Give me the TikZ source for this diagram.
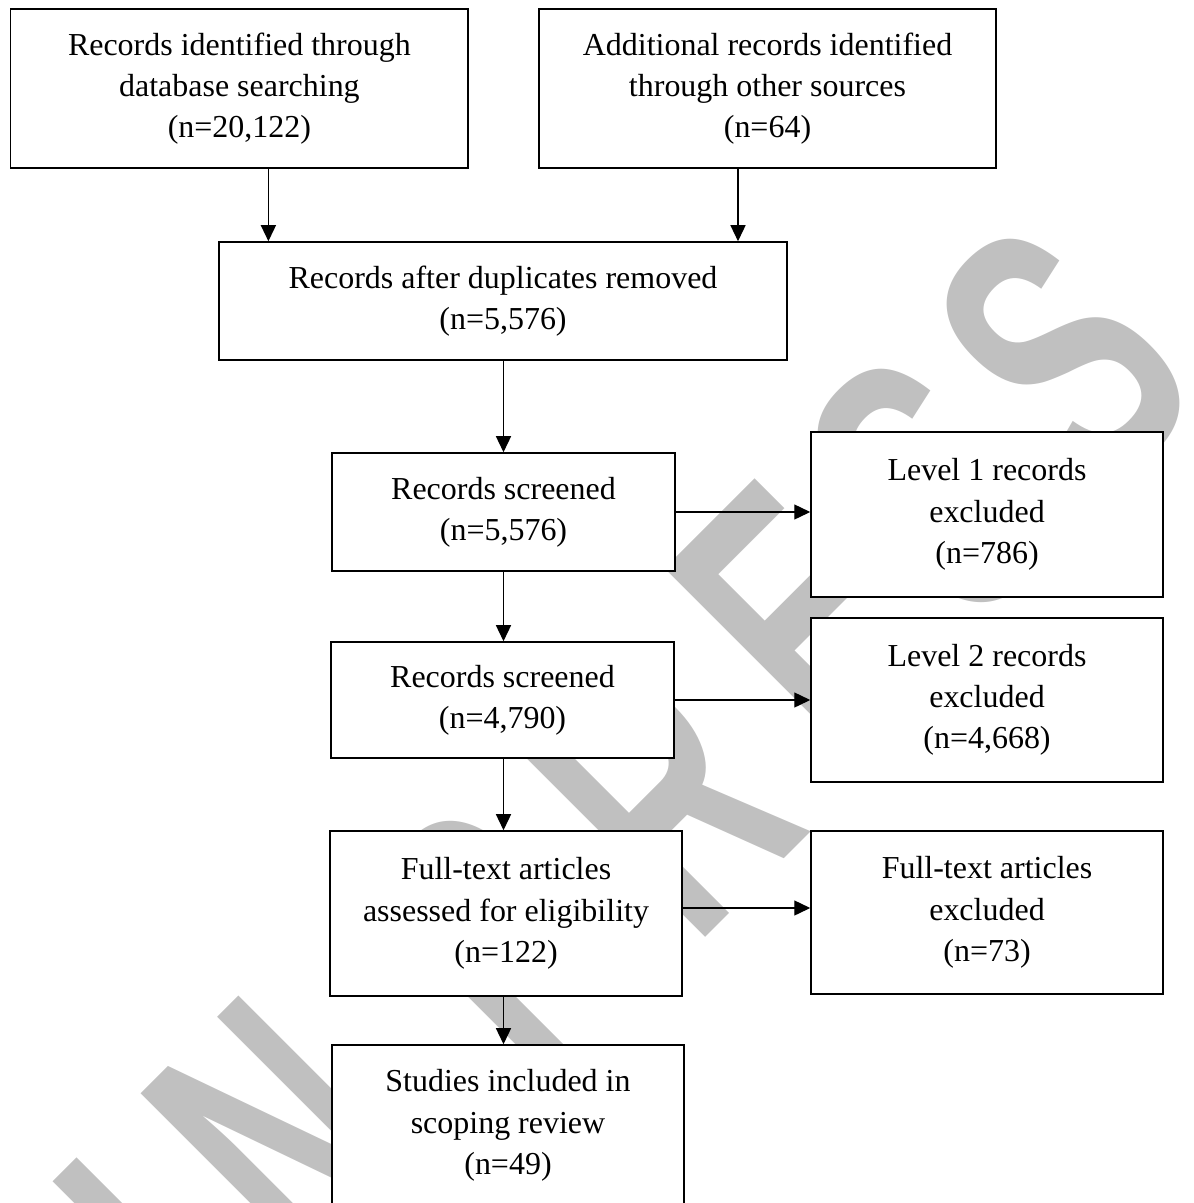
\documentclass[tikz,border=0pt]{standalone}
\usepackage{fontspec}
\setmainfont{Liberation Serif}
\newfontfamily\wmfont[FakeStretch = 0.62]{Liberation Sans Bold}
\usetikzlibrary{arrows.meta}
\definecolor{wmgray}{RGB}{192,192,192}

\begin{document}
\begin{tikzpicture}[x = 0.02cm, y = -0.02cm,
        box/.style = {draw, fill = white, line width = 0.9pt, align = center, inner sep = 0pt,
                      font = \fontsize{18.2}{23.5}\selectfont},
        arr/.style = {line width = 0.8pt, -{Triangle[length = 0.32cm, width = 0.3cm]}},
        wm/.style = {rotate = 45, anchor = base, inner sep = 0pt, text = wmgray,
                     font = \wmfont\fontsize{216}{216}\selectfont}]
    \useasboundingbox (0,0) rectangle (1193,1203);
    % watermark behind the chart
    \begin{scope}
        \clip (0,0) rectangle (1193,1203);
        \foreach \ch/\x/\y [count = \i] in {I/250/1354, N/375/1229, P/590/1030, R/755/888,
                                             E/894/709, S/1026/578, S/1155/448}
            \node[wm] (wm\i) at (\x,\y) {\ch};
    \end{scope}
    \node[box, minimum width = 9.15cm, minimum height = 3.18cm] (db) at (239.4,88.5)
        {Records identified through\\database searching\\(n=20,122)};
    \node[box, minimum width = 9.14cm, minimum height = 3.18cm] (other) at (767.5,88.5)
        {Additional records identified\\through other sources\\(n=64)};
    \node[box, minimum width = 11.37cm, minimum height = 2.36cm] (dup) at (503,301)
        {Records after duplicates removed\\(n=5,576)};
    \node[box, minimum width = 6.86cm, minimum height = 2.36cm] (scr1) at (503.5,512)
        {Records screened\\(n=5,576)};
    \node[box, minimum width = 7.04cm, minimum height = 3.3cm] (exc1) at (987,514.5)
        {Level 1 records\\excluded\\(n=786)};
    \node[box, minimum width = 6.86cm, minimum height = 2.32cm] (scr2) at (502.5,700)
        {Records screened\\(n=4,790)};
    \node[box, minimum width = 7.04cm, minimum height = 3.28cm] (exc2) at (987,700)
        {Level 2 records\\excluded\\(n=4,668)};
    \node[box, minimum width = 7.04cm, minimum height = 3.3cm] (full) at (506,913.5)
        {Full-text articles\\assessed for eligibility\\(n=122)};
    \node[box, minimum width = 7.04cm, minimum height = 3.26cm] (exc3) at (987,912.5)
        {Full-text articles\\excluded\\(n=73)};
    \node[box, minimum width = 7.04cm, minimum height = 3.22cm] (incl) at (508,1125.5)
        {Studies included in\\scoping review\\(n=49)};
    % sources into the merged set
    \draw[arr] ([xshift = 0.58cm]db.south) -- ([xshift = 0.58cm]db.south |- dup.north);
    \draw[arr] ([xshift = -0.59cm]other.south) -- ([xshift = -0.59cm]other.south |- dup.north);
    % main column
    \foreach \a/\b in {dup/scr1, scr1/scr2, scr2/full, full/incl}
        \draw[arr] (scr1.south |- \a.south) -- (scr1.south |- \b.north);
    % exclusions
    \draw[arr] (scr1.east) -- (scr1.east -| exc1.west);
    \draw[arr] (scr2.east) -- (scr2.east -| exc2.west);
    \draw[arr] ([yshift = 0.11cm]full.east) -- ([yshift = 0.11cm]full.east -| exc3.west);
\end{tikzpicture}
\end{document}
